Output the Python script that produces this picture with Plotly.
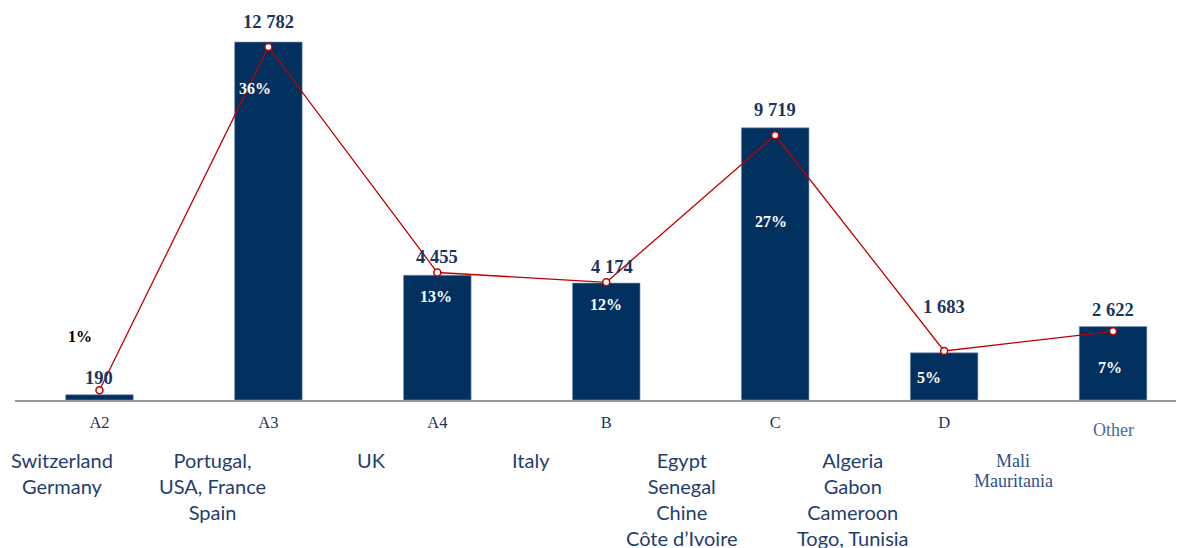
import plotly.graph_objects as go

# data
categories = ["A2", "A3", "A4", "B", "C", "D", "Other"]
volumes = [190, 12782, 4455, 4174, 9719, 1683, 2622]
shares = [1, 36, 13, 12, 27, 5, 7]
volume_labels = ["190", "12 782", "4 455", "4 174", "9 719", "1 683", "2 622"]
share_labels = ["1%", "36%", "13%", "12%", "27%", "5%", "7%"]
countries = [
    "Switzerland<br>Germany",
    "Portugal,<br>USA, France<br>Spain",
    "UK",
    "Italy",
    "Egypt<br>Senegal<br>Chine<br>Côte d’Ivoire",
    "Algeria<br>Gabon<br>Cameroon<br>Togo, Tunisia",
    "Mali<br>Mauritania",
]

BAR_COLOR = "#02315F"
LABEL_COLOR = "#17375E"
COUNTRY_COLOR = "#1F3E6E"
LINE_COLOR = "#C00000"
SERIF = "Liberation Serif, Times New Roman, serif"
SANS = "Lato, Carlito, Calibri, sans-serif"

# label offsets (pixels) for the hand-placed data labels
vol_yshift = [17, 20, 18, 16, 18, 46, 17]
vol_xshift = [0, 0, 0, 6, 0, 0, 0]
pct_yshift = [58, -46, -21, -21, -94, -25, -41]
pct_xshift = [-19, -13, -1, 0, -4, -15, -3]
country_x = [0.040, 0.169, 0.305, 0.441, 0.571, 0.717, 0.854]

fig = go.Figure()
fig.add_trace(go.Bar(
    x=categories, y=volumes,
    marker=dict(color=BAR_COLOR, line=dict(color="#7F93B3", width=0.6)),
    width=0.4,
    showlegend=False, hoverinfo="skip",
))
fig.add_trace(go.Scatter(
    x=categories, y=shares, yaxis="y2",
    mode="lines+markers",
    line=dict(color=LINE_COLOR, width=1.3),
    marker=dict(symbol="circle", size=7, color="white",
                line=dict(color=LINE_COLOR, width=1.5)),
    showlegend=False, hoverinfo="skip",
))

for i, cat in enumerate(categories):
    fig.add_annotation(
        x=cat, y=volumes[i], xref="x", yref="y",
        text=f"<b>{volume_labels[i]}</b>", showarrow=False,
        yanchor="middle", yshift=vol_yshift[i], xshift=vol_xshift[i],
        font=dict(family=SERIF, size=18.5, color=LABEL_COLOR),
    )
    fig.add_annotation(
        x=cat, y=volumes[i], xref="x", yref="y",
        text=f"<b>{share_labels[i]}</b>", showarrow=False,
        yanchor="middle", yshift=pct_yshift[i], xshift=pct_xshift[i],
        font=dict(family=SERIF, size=16,
                  color="black" if i == 0 else "white"),
    )

# country groups under the axis
for i, txt in enumerate(countries[:-1]):
    fig.add_annotation(
        x=country_x[i], y=-0.127, xref="paper", yref="paper",
        text=txt, showarrow=False, align="center",
        xanchor="center", yanchor="top", yshift=2,
        font=dict(family=SANS, size=20, color=COUNTRY_COLOR),
    )
# last group is set in a serif face with tighter lines
for k, line in enumerate(countries[-1].split("<br>")):
    fig.add_annotation(
        x=country_x[-1], y=-0.127, xref="paper", yref="paper",
        text=line, showarrow=False, xanchor="center", yanchor="top",
        yshift=-1 - 20 * k,
        font=dict(family=SERIF, size=18, color="#2E5286"),
    )

# "Other" tick label sits lower and in a lighter tone
fig.add_annotation(
    x="Other", y=0, xref="x", yref="paper",
    text="Other", showarrow=False, yanchor="middle", yshift=-30,
    font=dict(family=SERIF, size=18, color="#4A6A96"),
)
ticktext = categories[:-1] + [""]

fig.update_layout(
    width=1176, height=540,
    margin=dict(l=7, r=0, t=12, b=148),
    plot_bgcolor="white", paper_bgcolor="white",
    bargap=0.6,
    xaxis=dict(
        tickvals=categories, ticktext=ticktext,
        range=[-0.5, 6.42],
        showline=True, linecolor="#999999", linewidth=1.5,
        ticks="outside", ticklen=6, tickcolor="rgba(0,0,0,0)",
        tickfont=dict(family=SERIF, size=16.5, color=LABEL_COLOR),
        showgrid=False, fixedrange=True,
    ),
    yaxis=dict(range=[0, 13568], visible=False, showgrid=False),
    yaxis2=dict(range=[0, 38.75], overlaying="y", visible=False, showgrid=False),
)

fig.write_html("out.html")
